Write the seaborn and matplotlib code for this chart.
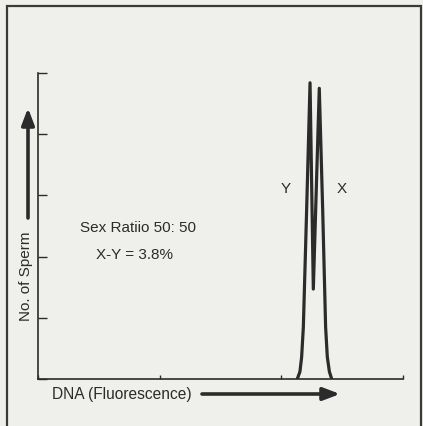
import pandas as pd
import seaborn as sns
import matplotlib.pyplot as plt
from matplotlib.patches import Rectangle

# histogram trace (two overlapping peaks, Y then X)
dna = [2.131, 2.153, 2.167, 2.181, 2.208, 2.236, 2.263, 2.312, 2.340, 2.364, 2.378, 2.395, 2.414]
sperm = [0.0, 0.12, 0.36, 0.85, 2.76, 4.84, 1.47, 4.75, 2.76, 0.85, 0.36, 0.12, 0.0]
x_ticks = [0, 1, 2, 3]
y_ticks = [0, 1, 2, 3, 4, 5]

df = pd.DataFrame({'dna': dna, 'sperm': sperm})

sns.set_style('ticks')
plt.rcParams['font.family'] = ['Liberation Sans', 'DejaVu Sans']
ink = '#2b2b2b'
paper = '#efefec'

fig = plt.figure(figsize=(4.23, 4.26), dpi=100, facecolor=paper)
ax = fig.add_axes([0.0898, 0.1103, 0.8629, 0.7183])
ax.set_facecolor(paper)

sns.lineplot(data=df, x='dna', y='sperm', sort=False, estimator=None,
             color=ink, lw=2.3, ax=ax)

ax.set_xlim(0, 3)
ax.set_ylim(0, 5)
ax.set_xticks(x_ticks)
ax.set_yticks(y_ticks)
ax.set_xticklabels([])
ax.set_yticklabels([])
ax.set_xlabel('')
ax.set_ylabel('')
ax.tick_params(axis='x', direction='in', length=3.2, width=1.0, color=ink)
ax.tick_params(axis='y', direction='in', length=6.8, width=1.0, color=ink)
sns.despine(ax=ax)
for s in ['left', 'bottom']:
    ax.spines[s].set_color(ink)
    ax.spines[s].set_linewidth(1.2)

ax.text(2.04, 3.10, 'Y', fontsize=11, color=ink, ha='center', va='center')
ax.text(2.50, 3.10, 'X', fontsize=11, color=ink, ha='center', va='center')
ax.text(0.345, 2.47, 'Sex Ratiio 50: 50', fontsize=11, color=ink, ha='left', va='center')
ax.text(0.477, 2.03, 'X-Y = 3.8%', fontsize=11, color=ink, ha='left', va='center')

# axis captions with arrows, placed in figure pixels
fig.text(52 / 423, 32 / 426, 'DNA (Fluorescence)', fontsize=11.2, color=ink,
         ha='left', va='center')
ax.annotate('', xy=(340, 32), xytext=(202, 32), xycoords='figure pixels',
            textcoords='figure pixels',
            arrowprops=dict(arrowstyle='-|>,head_length=1.0,head_width=0.38',
                            lw=2.6, color=ink, shrinkA=0, shrinkB=0))
fig.text(26 / 423, 150 / 426, 'No. of Sperm', fontsize=11, color=ink,
         ha='center', va='center', rotation=90)
ax.annotate('', xy=(28, 318), xytext=(28, 208), xycoords='figure pixels',
            textcoords='figure pixels',
            arrowprops=dict(arrowstyle='-|>,head_length=1.0,head_width=0.38',
                            lw=2.6, color=ink, shrinkA=0, shrinkB=0))

# outer frame of the figure box
fig.patches.append(Rectangle((7 / 423, -0.05), 414 / 423, 0.05 + 420 / 426,
                             transform=fig.transFigure, fill=False,
                             edgecolor='#3a3a3a', lw=1.6))

plt.savefig('out.png', dpi=100, facecolor=paper)
